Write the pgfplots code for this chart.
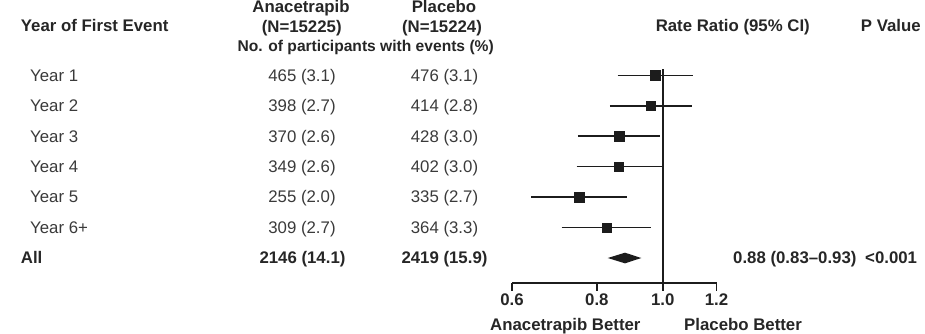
\documentclass[border=0pt]{standalone}
\usepackage{pgfplots}
\usepackage{pgfplotstable}
\pgfplotsset{compat=1.18}
\usepackage{fontspec}
\setmainfont{Liberation Sans}
\definecolor{txt}{HTML}{262626}
\definecolor{txtr}{HTML}{3A3A3A}
\definecolor{ink}{HTML}{1C1C1C}
\newcommand{\fs}{\fontsize{16.8bp}{19bp}\selectfont}

\pgfplotstableread{
row rr lo hi
1 0.974 0.858 1.108
2 0.960 0.836 1.103
3 0.862 0.750 0.991
4 0.861 0.747 1.000
5 0.754 0.641 0.885
6 0.827 0.710 0.962
}\rrtable

\begin{document}
\begin{tikzpicture}[font=\fs]
\path[use as bounding box] (0,0) rectangle (925bp,-334bp);
\begin{axis}[
  at={(512bp,-282.7bp)}, anchor=south west,
  scale only axis, width=204.5bp, height=213.4bp,
  xmode=log, xmin=0.6, xmax=1.2, ymin=0.803, ymax=7.811, y dir=reverse,
  axis x line*=bottom, axis y line=none,
  xtick={0.6,0.8,1.0,1.2}, xticklabels={0.6,0.8,1.0,1.2},
  xminorticks=false, xtick align=outside, major tick length=8bp,
  x axis line style={line width=1.6bp, color=ink, -},
  every tick/.style={line width=1.6bp, color=ink},
  xticklabel style={font=\fs\bfseries, text=txt},
  clip=false,
]
\addplot[ink, line width=1.7bp] coordinates {(1,0.803) (1,7.811)};
\addplot[ink, line width=1.6bp] coordinates {(0.858,1) (1.108,1)};
\addplot[ink, line width=1.6bp] coordinates {(0.836,2) (1.103,2)};
\addplot[ink, line width=1.6bp] coordinates {(0.750,3) (0.991,3)};
\addplot[ink, line width=1.6bp] coordinates {(0.747,4) (1.000,4)};
\addplot[ink, line width=1.6bp] coordinates {(0.641,5) (0.885,5)};
\addplot[ink, line width=1.6bp] coordinates {(0.710,6) (0.962,6)};
\addplot[only marks, mark=square*, mark size=4.8bp, ink] table[x=rr, y=row] {\rrtable};
\addplot[fill=ink, draw=none] coordinates {(0.83,7) (0.88,6.825) (0.93,7) (0.88,7.175)} -- cycle;
\end{axis}
% headers
\node[anchor=base west, inner sep=0pt, text=txt] at (20.7bp,-31.7bp) {\bfseries Year of First Event};
\node[anchor=base, inner sep=0pt, text=txt] at (301bp,-12bp) {\bfseries Anacetrapib};
\node[anchor=base, inner sep=0pt, text=txt] at (301.7bp,-32.7bp) {\bfseries (N=15225)};
\node[anchor=base, inner sep=0pt, text=txt] at (444bp,-12bp) {\bfseries Placebo};
\node[anchor=base, inner sep=0pt, text=txt] at (442bp,-32.7bp) {\bfseries (N=15224)};
\node[anchor=base west, inner sep=0pt, text=txt] at (237.3bp,-51bp) {\fontsize{15.6bp}{19bp}\selectfont\bfseries No. of participants with events (\%)};
\node[anchor=base east, inner sep=0pt, text=txt] at (810bp,-31.7bp) {\bfseries Rate Ratio (95\% CI)};
\node[anchor=base west, inner sep=0pt, text=txt] at (860.7bp,-31.7bp) {\bfseries P Value};
% rows
\foreach \lab/\a/\b/\yy in {Year 1/465 (3.1)/476 (3.1)/81.1, Year 2/398 (2.7)/414 (2.8)/111.5, Year 3/370 (2.6)/428 (3.0)/142, Year 4/349 (2.6)/402 (3.0)/172.4, Year 5/255 (2.0)/335 (2.7)/202.9, Year 6+/309 (2.7)/364 (3.3)/233.3}{
  \node[anchor=base west, inner sep=0pt, text=txtr] at (30bp,-\yy bp) {\lab};
  \node[anchor=base, inner sep=0pt, text=txtr] at (302bp,-\yy bp) {\a};
  \node[anchor=base, inner sep=0pt, text=txtr] at (444.5bp,-\yy bp) {\b};
}
\node[anchor=base west, inner sep=0pt, text=txt] at (20.7bp,-263.8bp) {\bfseries All};
\node[anchor=base, inner sep=0pt, text=txt] at (302.5bp,-263.8bp) {\bfseries 2146 (14.1)};
\node[anchor=base, inner sep=0pt, text=txt] at (444.5bp,-263.8bp) {\bfseries 2419 (15.9)};
\node[anchor=base west, inner sep=0pt, text=txt] at (733bp,-263.8bp) {\bfseries 0.88 (0.83--0.93)};
\node[anchor=base west, inner sep=0pt, text=txt] at (865bp,-263.8bp) {\bfseries <0.001};
% bottom
\node[anchor=base west, inner sep=0pt, text=txt] at (490bp,-330bp) {\bfseries Anacetrapib Better};
\node[anchor=base west, inner sep=0pt, text=txt] at (684bp,-330bp) {\bfseries Placebo Better};
\end{tikzpicture}
\end{document}
